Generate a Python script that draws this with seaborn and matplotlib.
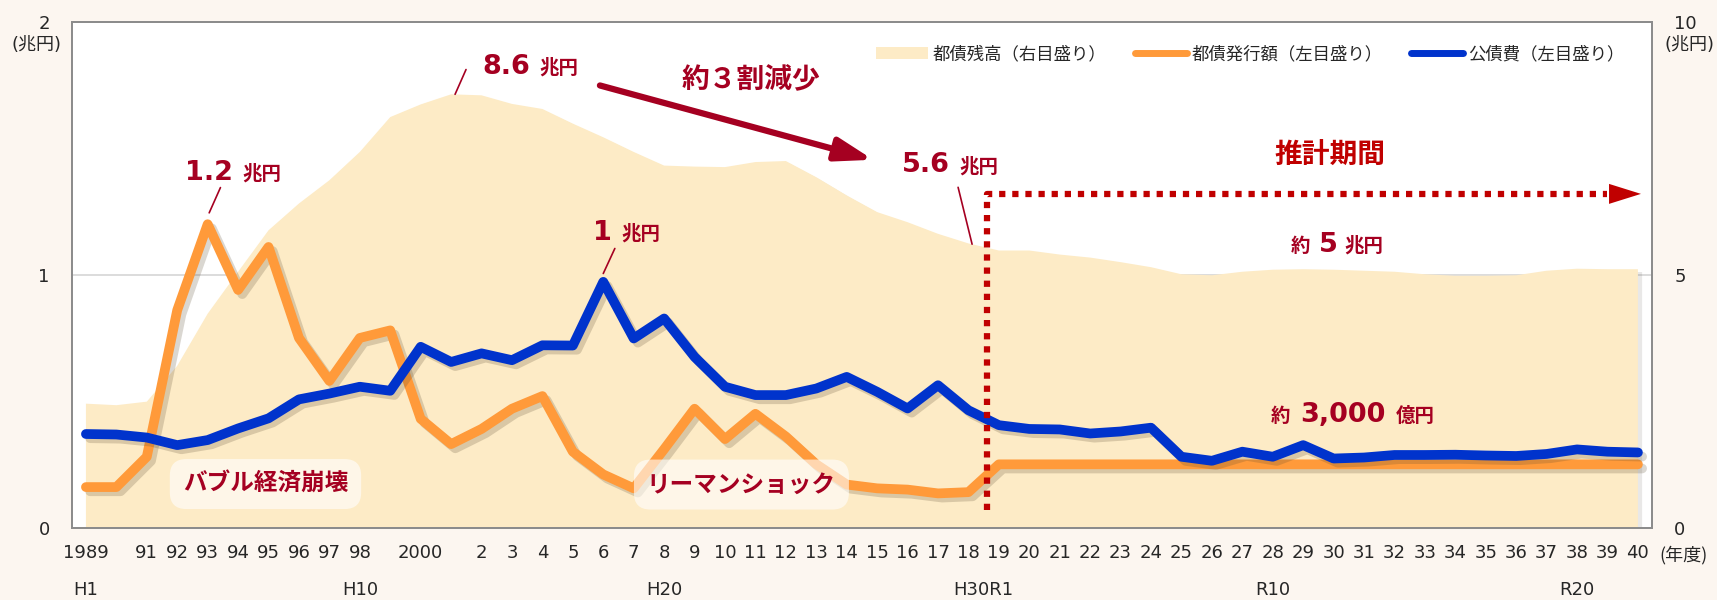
import matplotlib
matplotlib.use("Agg")
import matplotlib.pyplot as plt
import matplotlib.patheffects as pe
from matplotlib.patches import Patch
from matplotlib.lines import Line2D
import seaborn as sns

years = list(range(1989, 2041))

# 都債発行額 (兆円, left scale)
issue = [0.16, 0.16, 0.28, 0.86, 1.20, 0.94, 1.11, 0.75, 0.58, 0.75,
         0.78, 0.43, 0.33, 0.39, 0.47, 0.52, 0.30, 0.21, 0.155, 0.31,
         0.47, 0.35, 0.45, 0.36, 0.25, 0.17, 0.155, 0.15, 0.135, 0.14,
         0.25, 0.25, 0.25, 0.25, 0.25, 0.25, 0.25, 0.25, 0.25, 0.25,
         0.25, 0.25, 0.25, 0.25, 0.25, 0.25, 0.25, 0.25, 0.25, 0.25,
         0.25, 0.25]

# 公債費 (兆円, left scale)
service = [0.37, 0.368, 0.356, 0.326, 0.346, 0.392, 0.432, 0.507, 0.53, 0.557,
           0.541, 0.715, 0.655, 0.689, 0.662, 0.721, 0.72, 0.972, 0.748, 0.827,
           0.675, 0.557, 0.524, 0.524, 0.55, 0.596, 0.537, 0.471, 0.563, 0.464,
           0.405, 0.39, 0.388, 0.372, 0.38, 0.395, 0.28, 0.264, 0.30, 0.28,
           0.326, 0.273, 0.277, 0.287, 0.287, 0.288, 0.285, 0.283, 0.291, 0.309,
           0.30, 0.297]

# 都債残高 (兆円, right scale)
balance = [2.45, 2.42, 2.49, 3.2, 4.23, 5.06, 5.88, 6.41, 6.87, 7.43,
           8.12, 8.37, 8.57, 8.55, 8.38, 8.28, 7.99, 7.72, 7.43, 7.16,
           7.14, 7.13, 7.23, 7.25, 6.93, 6.57, 6.24, 6.04, 5.81, 5.62,
           5.48, 5.48, 5.40, 5.34, 5.25, 5.15, 5.01, 4.99, 5.06, 5.10,
           5.11, 5.10, 5.08, 5.06, 5.01, 4.98, 4.98, 4.99, 5.08, 5.12,
           5.11, 5.11]

xlabels = ["1989", "", "91", "92", "93", "94", "95", "96", "97", "98",
           "", "2000", "", "2", "3", "4", "5", "6", "7", "8",
           "9", "10", "11", "12", "13", "14", "15", "16", "17", "18",
           "19", "20", "21", "22", "23", "24", "25", "26", "27", "28",
           "29", "30", "31", "32", "33", "34", "35", "36", "37", "38",
           "39", "40"]
era_pos = [1989, 1998, 2008, 2018.5, 2028, 2038]
era_labels = ["H1", "H10", "H20", "H30R1", "R10", "R20"]

bg = "#FCF6F0"
area_c = "#FDEBC6"
orange = "#FF9A3A"
blue = "#0033CC"
dred = "#A50021"
red = "#C00000"
spine_c = "#8C8C8C"

sns.set_style("white")
plt.rcParams["font.family"] = ["DejaVu Sans", "Noto Sans CJK JP"]
jp = ["Noto Sans CJK JP", "DejaVu Sans"]

fig = plt.figure(figsize=(17.17, 6.0), dpi=100, facecolor=bg)
ax = fig.add_axes([0.0419, 0.1208, 0.9202, 0.8425])
ax2 = ax.twinx()
ax.set_zorder(ax2.get_zorder() + 1)
ax.patch.set_visible(False)
ax2.patch.set_visible(True)
ax2.set_facecolor("white")

# area (right scale)
ax2.fill_between(years, balance, color=area_c, lw=0, zorder=2,
                 path_effects=[pe.SimplePatchShadow(offset=(3, -2), alpha=0.12), pe.Normal()])
ax2.set_ylim(0, 10)
ax2.set_yticks([0, 5, 10])
ax2.yaxis.grid(True, color="#D9D9D9", lw=1.3)
ax2.set_axisbelow(True)

shadow = [pe.SimpleLineShadow(offset=(3, -3), shadow_color="#5a4a30", alpha=0.22), pe.Normal()]
sns.lineplot(x=years, y=issue, ax=ax, color=orange, linewidth=7, legend=False)
sns.lineplot(x=years, y=service, ax=ax, color=blue, linewidth=7, legend=False)
for ln in ax.lines:
    ln.set_path_effects(shadow)
    ln.set_solid_capstyle("round")
    ln.set_solid_joinstyle("round")

ax.set_xlim(1988.54, 2040.46)
ax.set_ylim(0, 2)
ax.set_yticks([0, 1, 2])
ax.set_xticks(years)
ax.set_xticklabels(xlabels)
ax.set_xlabel("")
ax.set_ylabel("")
ax.tick_params(axis="x", length=0, pad=12, labelsize=13)
ax.tick_params(axis="y", length=0, pad=16, labelsize=13)
ax2.tick_params(axis="y", length=0, pad=16, labelsize=13)
for a in (ax, ax2):
    for s in a.spines.values():
        s.set_color(spine_c)
        s.set_linewidth(1.3)

# era labels and units
for xp, lab in zip(era_pos, era_labels):
    ax.text(xp, -0.124, lab, transform=ax.get_xaxis_transform(), ha="center",
            va="center", fontsize=13)
ax.text(2041.5, -0.054, "(年度)", transform=ax.get_xaxis_transform(), ha="center",
        va="center", fontsize=13, family=jp)
fig.text(0.021, 0.925, "(兆円)", ha="center", va="center", fontsize=13)
fig.text(0.9837, 0.925, "(兆円)", ha="center", va="center", fontsize=13)

# projection period marker
ax.plot([2018.6, 2018.6, 2039.0], [0.069, 1.32, 1.32], color=red, lw=4.5,
        linestyle=(0, (1, 1.1)), dash_capstyle="butt", zorder=6)
ax.annotate("", xy=(2040.1, 1.32), xytext=(2038.95, 1.32),
            arrowprops=dict(arrowstyle="-|>,head_length=2.3,head_width=0.72", color=red,
                            lw=0, shrinkA=0, shrinkB=0, mutation_scale=10), zorder=6)
ax.text(2029.88, 1.472, "推計期間", ha="center", va="center", fontsize=20,
        fontweight="bold", color=red, family=jp)

# big decrease arrow
ax.annotate("", xy=(2014.87, 1.455), xytext=(2005.89, 1.749),
            arrowprops=dict(arrowstyle="-|>,head_length=2.2,head_width=0.7", color=dred,
                            lw=4.5, shrinkA=0, shrinkB=0, mutation_scale=10))
ax.text(2010.85, 1.769, "約３割減少", ha="center", va="center", fontsize=20,
        fontweight="bold", color=dred, family=jp)


def callout(x, y, num, unit, leader=None):
    ax.text(x, y, num, ha="right", va="baseline", fontsize=19.5, fontweight="bold", color=dred)
    ax.annotate(unit, (x, y), xytext=(7, 0), textcoords="offset points", ha="left",
                va="baseline", fontsize=14, fontweight="bold", color=dred, family=jp)
    if leader is not None:
        ax.annotate("", xy=leader[1], xytext=leader[0],
                    arrowprops=dict(arrowstyle="-", color=dred, lw=1.2, shrinkA=0, shrinkB=0))


callout(1993.83, 1.376, "1.2", "兆円", ((1993.42, 1.345), (1993.05, 1.245)))
callout(2003.59, 1.795, "8.6", "兆円", ((2001.49, 1.812), (2001.13, 1.714)))
callout(2017.39, 1.406, "5.6", "兆円", ((2017.66, 1.346), (2018.12, 1.121)))
callout(2006.29, 1.139, "1", "兆円", ((2006.38, 1.104), (2006.0, 1.005)))

# 約 5 兆円
ax.text(2029.82, 1.09, "5", ha="center", va="baseline", fontsize=19.5, fontweight="bold", color=dred)
ax.annotate("約", (2029.82, 1.09), xytext=(-13, 0), textcoords="offset points", ha="right",
            va="baseline", fontsize=14, fontweight="bold", color=dred, family=jp)
ax.annotate("兆円", (2029.82, 1.09), xytext=(12, 0), textcoords="offset points", ha="left",
            va="baseline", fontsize=14, fontweight="bold", color=dred, family=jp)

# 約 3,000 億円
ax.text(2030.31, 0.418, "3,000", ha="center", va="baseline", fontsize=19.5, fontweight="bold", color=dred)
ax.annotate("約", (2030.31, 0.418), xytext=(-38, 0), textcoords="offset points", ha="right",
            va="baseline", fontsize=14, fontweight="bold", color=dred, family=jp)
ax.annotate("億円", (2030.31, 0.418), xytext=(38, 0), textcoords="offset points", ha="left",
            va="baseline", fontsize=14, fontweight="bold", color=dred, family=jp)

# event labels
box = dict(boxstyle="round,pad=0.55,rounding_size=0.7", facecolor="white", edgecolor="none", alpha=0.6)
ax.text(1994.9, 0.172, "バブル経済崩壊", ha="center", va="center", fontsize=17,
        fontweight="bold", color=dred, family=jp, bbox=box, zorder=7)
ax.text(2010.54, 0.17, "リーマンショック", ha="center", va="center", fontsize=17,
        fontweight="bold", color=dred, family=jp, bbox=box, zorder=7)

handles = [Patch(facecolor=area_c, edgecolor="none"),
           Line2D([0], [0], color=orange, lw=5, solid_capstyle="round"),
           Line2D([0], [0], color=blue, lw=5, solid_capstyle="round")]
labels = ["都債残高（右目盛り）", "都債発行額（左目盛り）", "公債費（左目盛り）"]
leg = ax.legend(handles, labels, ncol=3, loc="upper right", bbox_to_anchor=(0.987, 0.968),
                frameon=False, handlelength=3.0, handletextpad=0.3,
                columnspacing=1.6, borderaxespad=0, prop={"family": jp, "size": 12.5})

fig.savefig("out.png", dpi=100, facecolor=bg)
